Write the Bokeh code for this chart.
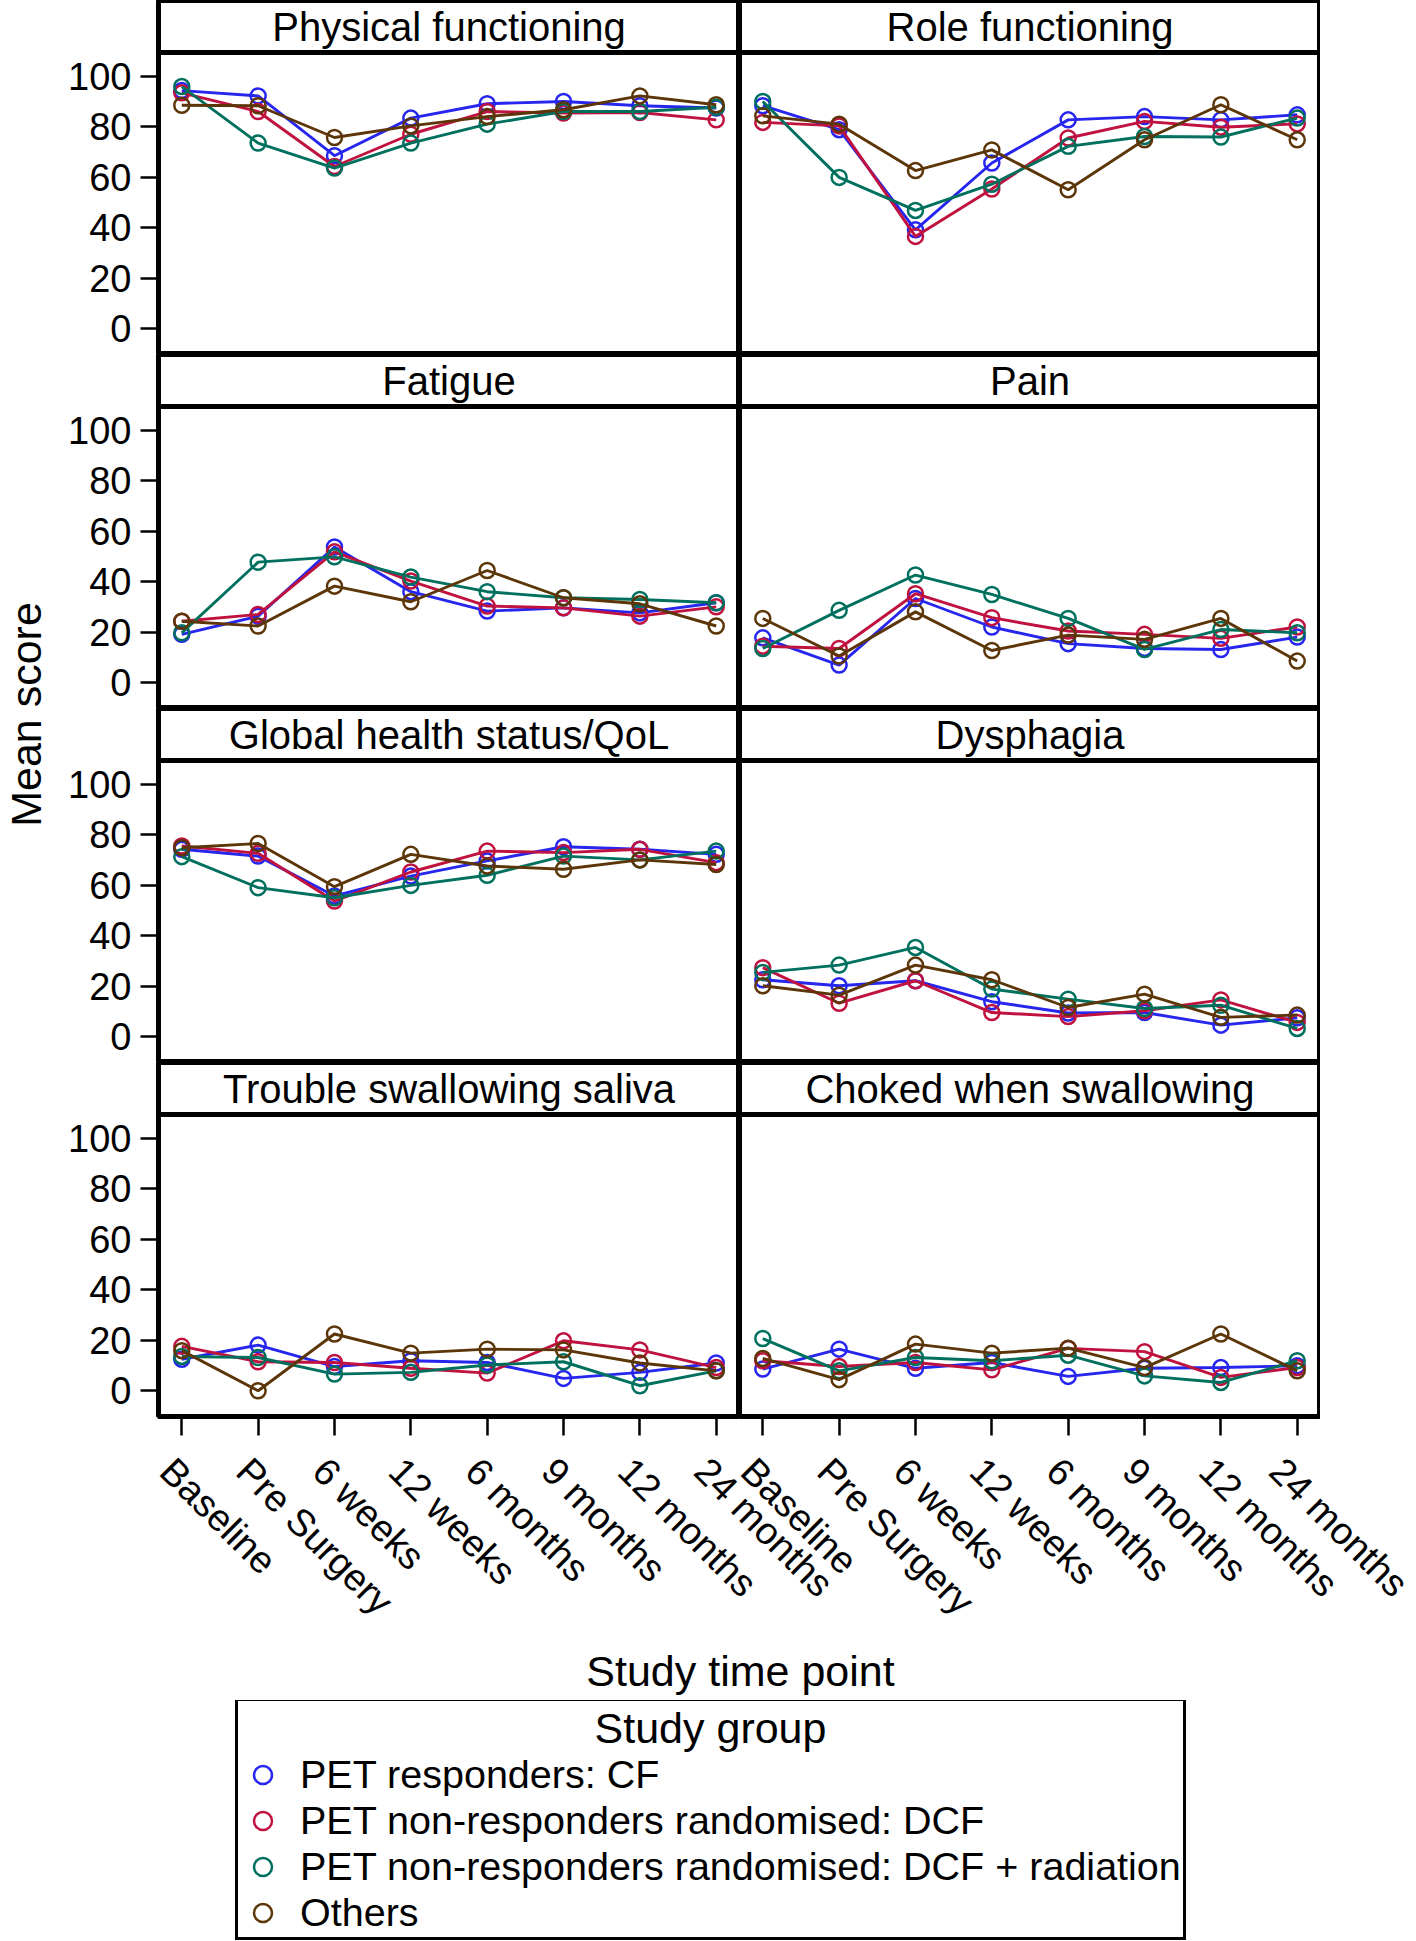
from math import pi
from bokeh.plotting import figure
from bokeh.models import Range1d, FixedTicker, Span, Label, Legend, LegendItem, ColumnDataSource
from bokeh.layouts import row, column
from bokeh.embed import file_html
from bokeh.resources import INLINE

# ---------------- data ----------------
timepoints = ["Baseline", "Pre Surgery", "6 weeks", "12 weeks",
              "6 months", "9 months", "12 months", "24 months"]
groups = ["PET responders: CF",
          "PET non-responders randomised: DCF",
          "PET non-responders randomised: DCF + radiation",
          "Others"]
colors = ["#2626EE", "#C0123E", "#00705E", "#5C3608"]

panel_titles = ["Physical functioning", "Role functioning", "Fatigue", "Pain",
                "Global health status/QoL", "Dysphagia",
                "Trouble swallowing saliva", "Choked when swallowing"]

# each panel: one list per study group (CF, DCF, DCF + radiation, Others)
physical_functioning = [
    [94.4, 92.3, 68.6, 83.5, 89.2, 90.1, 88.4, 87.5],
    [93.5, 86.1, 64.3, 77.1, 86.1, 85.5, 85.7, 82.8],
    [96.0, 73.6, 63.7, 73.6, 81.1, 86.1, 86.1, 87.8],
    [88.6, 88.4, 75.8, 80.4, 84.1, 86.8, 92.3, 88.8],
]
role_functioning = [
    [88.4, 78.9, 39.2, 65.7, 82.8, 84.1, 82.8, 84.8],
    [81.8, 80.4, 36.6, 55.4, 75.6, 82.2, 79.9, 81.2],
    [90.1, 60.0, 46.9, 57.3, 72.3, 76.2, 76.0, 83.5],
    [84.4, 81.1, 62.7, 70.9, 55.1, 74.9, 88.8, 74.9],
]
fatigue = [
    [19.2, 26.4, 53.8, 36.1, 28.4, 29.7, 27.7, 31.7],
    [24.4, 27.1, 51.9, 40.3, 30.4, 29.7, 26.4, 30.1],
    [19.8, 47.8, 49.9, 41.9, 36.1, 33.7, 33.0, 31.7],
    [24.4, 22.5, 38.3, 32.1, 44.5, 33.7, 31.3, 22.5],
]
pain = [
    [17.8, 7.0, 33.4, 22.1, 15.5, 13.6, 13.2, 18.1],
    [14.5, 13.6, 35.3, 25.8, 20.5, 19.2, 17.6, 22.1],
    [13.6, 28.7, 42.7, 35.0, 25.5, 13.2, 21.1, 19.8],
    [25.5, 10.6, 28.1, 12.8, 18.9, 17.2, 25.5, 8.6],
]
global_health = [
    [74.3, 71.6, 55.8, 63.7, 69.7, 75.3, 74.3, 72.3],
    [75.6, 72.7, 53.8, 65.3, 73.6, 73.0, 74.3, 69.0],
    [71.4, 59.1, 55.1, 60.0, 64.0, 71.6, 70.1, 73.6],
    [74.9, 76.6, 59.5, 72.3, 67.7, 66.4, 70.1, 68.3],
]
dysphagia = [
    [22.6, 20.2, 22.2, 13.9, 9.4, 9.6, 4.6, 7.5],
    [27.4, 13.3, 22.2, 9.6, 8.0, 10.3, 14.6, 5.7],
    [25.5, 28.4, 35.4, 18.9, 14.9, 11.2, 12.5, 3.3],
    [20.2, 16.5, 28.4, 22.6, 11.6, 16.9, 7.7, 8.6],
]
trouble_swallowing_saliva = [
    [12.5, 18.1, 9.6, 11.9, 11.2, 4.9, 7.3, 11.0],
    [17.6, 11.5, 11.2, 8.9, 7.0, 19.8, 16.2, 9.2],
    [13.6, 13.2, 6.6, 7.3, 10.2, 11.5, 2.0, 7.9],
    [15.9, 0.0, 22.5, 14.9, 16.5, 16.2, 11.0, 7.9],
]
choked_when_swallowing = [
    [8.6, 16.5, 8.9, 11.2, 5.7, 8.9, 9.2, 9.9],
    [11.9, 9.6, 11.2, 8.3, 16.8, 15.5, 5.3, 9.2],
    [20.7, 7.9, 13.2, 11.9, 14.1, 5.9, 3.3, 11.9],
    [12.8, 4.4, 18.5, 14.9, 16.9, 9.2, 22.5, 7.9],
]
y_ticks = [0, 20, 40, 60, 80, 100]

panel_data = [physical_functioning, role_functioning, fatigue, pain,
              global_health, dysphagia, trouble_swallowing_saliva,
              choked_when_swallowing]

# ---------------- layout constants ----------------
FONT = "Liberation Sans"
PAGE_W = 1416
X0, X1 = -0.305, 7.305
Y0, Y1 = -10.2, 109.5
PLOT_H, HEAD_H = 302, 52
ROW_H = PLOT_H + HEAD_H
FRAME_W = 581
LEFT_B = 98
LAB_W = 60
BOTTOM_AX = 22
YTOP = Y1 + HEAD_H * (Y1 - Y0) / PLOT_H
PPU = FRAME_W / (X1 - X0)          # pixels per category step
LABEL_SHIFT = 15                    # rotated labels sit slightly left of their tick
STRIP_L = LAB_W + LEFT_B - LABEL_SHIFT
STRIP_R = 79
STRIP_FRAME = PAGE_W - STRIP_L - STRIP_R
xpos = list(range(len(timepoints)))


def make_panel(title, series, left, bottom):
    p = figure(width=(LEFT_B + FRAME_W) if left else FRAME_W,
               height=ROW_H + (BOTTOM_AX if bottom else 0),
               x_range=Range1d(X0, X1), y_range=Range1d(Y0, YTOP),
               x_axis_location="below" if bottom else None,
               y_axis_location="left" if left else None,
               toolbar_location=None, output_backend="svg",
               min_border=0)
    p.min_border_left = LEFT_B if left else 0
    p.min_border_bottom = BOTTOM_AX if bottom else 0
    p.grid.visible = False
    p.outline_line_color = "black"
    p.outline_line_width = 5
    p.background_fill_color = "white"
    p.border_fill_color = "white"
    if left:
        ax = p.yaxis[0]
        ax.ticker = FixedTicker(ticks=y_ticks)
        ax.major_tick_out = 18
        ax.major_tick_in = 0
        ax.major_tick_line_width = 2.5
        ax.minor_tick_line_color = None
        ax.axis_line_width = 3
        ax.major_label_standoff = 9
        ax.major_label_text_font = FONT
        ax.major_label_text_font_size = "38px"
        ax.major_label_text_color = "black"
    if bottom:
        bx = p.xaxis[0]
        bx.ticker = FixedTicker(ticks=xpos)
        bx.major_label_overrides = {i: "" for i in xpos}
        bx.major_label_text_font_size = "0px"
        bx.major_label_standoff = 0
        bx.major_tick_out = 19
        bx.major_tick_in = 0
        bx.major_tick_line_width = 2.5
        bx.minor_tick_line_color = None
        bx.axis_line_color = None
    p.add_layout(Span(location=Y1, dimension="width",
                      line_color="black", line_width=5))
    p.add_layout(Label(x=(X0 + X1) / 2, y=(Y1 + YTOP) / 2, text=title,
                       text_align="center", text_baseline="middle",
                       text_font=FONT, text_font_size="40px",
                       text_color="black"))
    for g in range(len(groups)):
        src = ColumnDataSource(dict(x=xpos, y=series[g]))
        p.line("x", "y", source=src, line_color=colors[g], line_width=2.9)
        p.scatter("x", "y", source=src, marker="circle", size=15,
                  fill_color=None, line_color=colors[g], line_width=2.5)
    return p


panels = [make_panel(panel_titles[i], panel_data[i], i % 2 == 0, i >= 6)
          for i in range(len(panel_titles))]
grid = column(*[row(panels[2 * r], panels[2 * r + 1]) for r in range(4)])

# y axis title
lab = figure(width=LAB_W, height=4 * ROW_H,
             x_range=Range1d(0, LAB_W), y_range=Range1d(0, 4 * ROW_H),
             x_axis_location=None, y_axis_location=None, min_border=0,
             toolbar_location=None, output_backend="svg")
lab.outline_line_color = None
lab.grid.visible = False
lab.add_layout(Label(x=25, y=4 * ROW_H - 714, text="Mean score",
                     angle=pi / 2, text_align="center", text_baseline="middle",
                     text_font=FONT, text_font_size="43px", text_color="black"))

# shared x axis labels spanning both panel columns
OFFSET = X1 - X0
tick_pos = xpos + [OFFSET + i for i in xpos]
overrides = {}
for i, t in enumerate(timepoints):
    overrides[xpos[i]] = t
    overrides[OFFSET + xpos[i]] = t
strip = figure(width=PAGE_W, frame_height=2,
               x_range=Range1d(X0, X0 + STRIP_FRAME / PPU), y_range=Range1d(0, 1),
               x_axis_location="below", y_axis_location=None,
               toolbar_location=None, output_backend="svg", min_border=0)
strip.min_border_left = STRIP_L
strip.min_border_right = STRIP_R
strip.min_border_bottom = 260
strip.outline_line_color = None
strip.grid.visible = False
xa = strip.xaxis[0]
xa.ticker = FixedTicker(ticks=tick_pos)
xa.major_label_overrides = overrides
xa.major_label_orientation = -pi / 4
xa.major_tick_out = 0
xa.major_tick_in = 0
xa.major_tick_line_color = None
xa.minor_tick_line_color = None
xa.axis_line_color = None
xa.major_label_standoff = 24
xa.major_label_text_font = FONT
xa.major_label_text_font_size = "38px"
xa.major_label_text_color = "black"
xa.axis_label = "Study time point"
xa.axis_label_text_font = FONT
xa.axis_label_text_font_size = "43px"
xa.axis_label_text_font_style = "normal"
xa.axis_label_text_color = "black"
xa.axis_label_standoff = 6

# legend
LEG_H = 241
leg = figure(width=PAGE_W, height=LEG_H,
             x_range=Range1d(STRIP_L, STRIP_L + STRIP_FRAME), y_range=Range1d(0, LEG_H),
             x_axis_location=None, y_axis_location=None, min_border=0,
             toolbar_location=None, output_backend="svg")
leg.min_border_left = STRIP_L
leg.min_border_right = STRIP_R
leg.outline_line_color = None
leg.grid.visible = False
items = []
for g in range(len(groups)):
    r = leg.scatter(x=[-1000], y=[-1000], marker="circle", size=18, fill_color=None,
                    line_color=colors[g], line_width=2.5)
    items.append(LegendItem(label=groups[g], renderers=[r]))
legend = Legend(items=items, location=(235 - STRIP_L, 1), title=" ",
                border_line_color="black", border_line_width=3,
                border_line_alpha=1,
                background_fill_alpha=0,
                padding=2, spacing=1, margin=0,
                glyph_width=45, glyph_height=45, label_standoff=15,
                label_text_font=FONT, label_text_font_size="39.5px",
                label_text_color="black",
                title_text_font=FONT, title_text_font_size="40px",
                title_text_font_style="normal", title_standoff=4)
leg.add_layout(legend)
leg.add_layout(Label(x=710, y=LEG_H - 27, text="Study group",
                     text_align="center", text_baseline="middle",
                     text_font=FONT, text_font_size="43px", text_color="black",
                     level="overlay"))

layout = column(row(lab, grid), strip, leg)
open("out.html", "w").write(file_html(layout, INLINE))
